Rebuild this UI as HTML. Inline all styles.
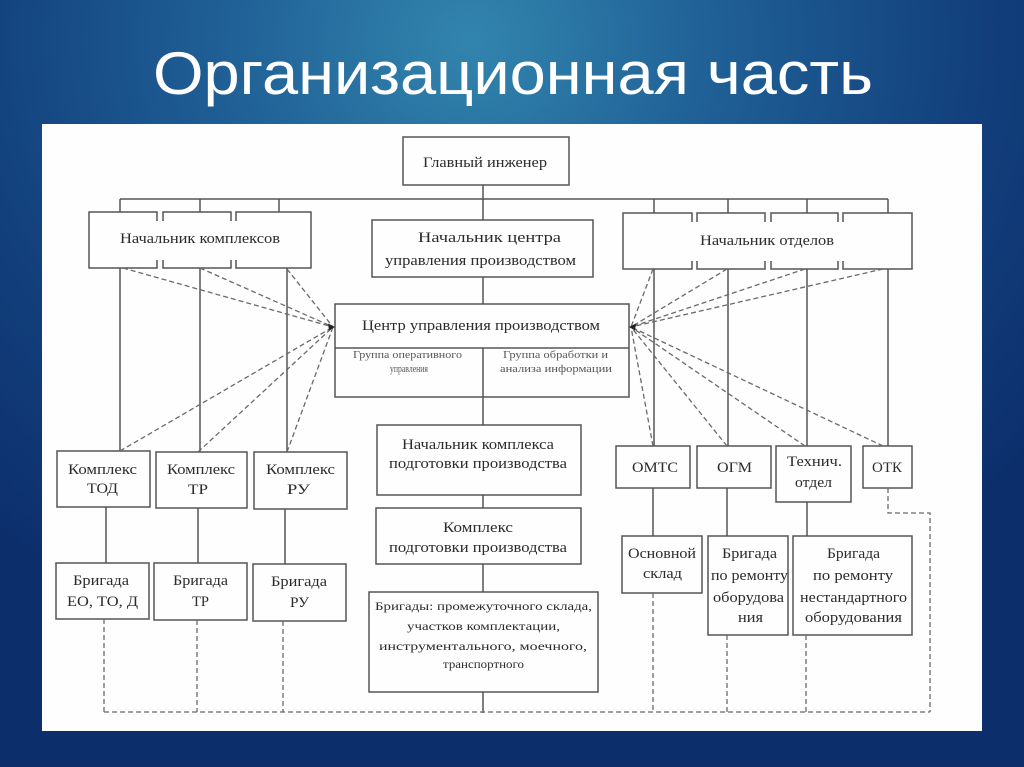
<!DOCTYPE html>
<html><head><meta charset="utf-8"><style>
html,body{margin:0;padding:0;}
body{width:1024px;height:767px;overflow:hidden;background:#0f3673;}
svg{display:block;}
</style></head><body>
<svg width="1024" height="767" viewBox="0 0 1024 767" xmlns="http://www.w3.org/2000/svg">
<defs>
<radialGradient id="bg" cx="470" cy="40" r="720" gradientUnits="userSpaceOnUse" gradientTransform="translate(470 40) scale(1 0.9) translate(-470 -40)">
<stop offset="0" stop-color="#3285ae"/>
<stop offset="0.35" stop-color="#1f5f95"/>
<stop offset="0.7" stop-color="#12407c"/>
<stop offset="1" stop-color="#0c2f6c"/>
</radialGradient>
</defs>
<rect width="1024" height="767" fill="url(#bg)"/>
<text x="153" y="94" font-family="Liberation Sans, sans-serif" font-size="60" fill="#ffffff" textLength="720" lengthAdjust="spacingAndGlyphs">Организационная часть</text>
<rect x="42" y="124" width="940" height="607" fill="#fefefe"/>

<g fill="none" stroke="#555" stroke-width="1.5">
<!-- top -->
<rect x="403" y="137" width="166" height="48"/>
<line x1="120" y1="199" x2="888" y2="199"/>
<line x1="483" y1="185" x2="483" y2="220"/>
<line x1="120" y1="199" x2="120" y2="212"/>
<line x1="200" y1="199" x2="200" y2="212"/>
<line x1="279" y1="199" x2="279" y2="212"/>
<line x1="654" y1="199" x2="654" y2="213"/>
<line x1="728" y1="199" x2="728" y2="213"/>
<line x1="807" y1="199" x2="807" y2="213"/>
<line x1="888" y1="199" x2="888" y2="213"/>
<!-- Начальник комплексов -->
<rect x="89" y="212" width="68" height="56"/>
<rect x="163" y="212" width="68" height="56"/>
<rect x="236" y="212" width="75" height="56"/>
<!-- Начальник отделов -->
<rect x="623" y="213" width="69" height="56"/>
<rect x="697" y="213" width="68" height="56"/>
<rect x="771" y="213" width="67" height="56"/>
<rect x="843" y="213" width="69" height="56"/>
</g>
<rect x="150" y="221" width="95" height="39" fill="#fefefe"/>
<rect x="685" y="222" width="165" height="39" fill="#fefefe"/>

<g fill="none" stroke="#555" stroke-width="1.5">
<rect x="372" y="220" width="221" height="57"/>
<line x1="483" y1="277" x2="483" y2="304"/>
<rect x="335" y="304" width="294" height="93"/>
<line x1="335" y1="348" x2="629" y2="348"/>
<line x1="483" y1="348" x2="483" y2="425"/>
<rect x="377" y="425" width="204" height="70"/>
<line x1="483" y1="495" x2="483" y2="508"/>
<rect x="376" y="508" width="205" height="56"/>
<line x1="483" y1="564" x2="483" y2="592"/>
<rect x="369" y="592" width="229" height="100"/>
<line x1="483" y1="692" x2="483" y2="713"/>

<!-- left column -->
<line x1="120" y1="268" x2="120" y2="451"/>
<line x1="200" y1="268" x2="200" y2="452"/>
<line x1="287" y1="268" x2="287" y2="452"/>
<rect x="57" y="451" width="93" height="56"/>
<rect x="156" y="452" width="91" height="56"/>
<rect x="254" y="452" width="93" height="57"/>
<line x1="106" y1="507" x2="106" y2="563"/>
<line x1="198" y1="508" x2="198" y2="563"/>
<line x1="285" y1="509" x2="285" y2="564"/>
<rect x="56" y="563" width="93" height="56"/>
<rect x="154" y="563" width="93" height="57"/>
<rect x="253" y="564" width="93" height="57"/>

<!-- right column -->
<line x1="654" y1="269" x2="654" y2="446"/>
<line x1="728" y1="269" x2="728" y2="446"/>
<line x1="807" y1="269" x2="807" y2="446"/>
<line x1="888" y1="269" x2="888" y2="446"/>
<rect x="616" y="446" width="74" height="42"/>
<rect x="697" y="446" width="74" height="42"/>
<rect x="776" y="446" width="75" height="56"/>
<rect x="863" y="446" width="49" height="42"/>
<line x1="653" y1="488" x2="653" y2="536"/>
<line x1="727" y1="488" x2="727" y2="536"/>
<line x1="807" y1="502" x2="807" y2="536"/>
<rect x="622" y="536" width="80" height="57"/>
<rect x="708" y="536" width="80" height="99"/>
<rect x="793" y="536" width="119" height="99"/>
</g>

<!-- dashed -->
<g fill="none" stroke="#6a6a6a" stroke-width="1.3" stroke-dasharray="5 3">
<line x1="104" y1="619" x2="104" y2="712"/>
<line x1="197" y1="620" x2="197" y2="712"/>
<line x1="283" y1="621" x2="283" y2="712"/>
<line x1="653" y1="593" x2="653" y2="712"/>
<line x1="727" y1="635" x2="727" y2="712"/>
<line x1="806" y1="635" x2="806" y2="712"/>
<polyline points="888,488 888,513 930,513 930,712"/>
<line x1="104" y1="712" x2="930" y2="712"/>

<line x1="123" y1="268" x2="333" y2="327"/>
<line x1="200" y1="268" x2="333" y2="327"/>
<line x1="287" y1="269" x2="333" y2="327"/>
<line x1="120" y1="451" x2="333" y2="327"/>
<line x1="198" y1="452" x2="333" y2="327"/>
<line x1="287" y1="452" x2="333" y2="327"/>

<line x1="653" y1="269" x2="631" y2="327"/>
<line x1="727" y1="269" x2="631" y2="327"/>
<line x1="805" y1="269" x2="631" y2="327"/>
<line x1="883" y1="269" x2="631" y2="327"/>
<line x1="653" y1="446" x2="631" y2="327"/>
<line x1="727" y1="446" x2="631" y2="327"/>
<line x1="805" y1="446" x2="631" y2="327"/>
<line x1="883" y1="446" x2="631" y2="327"/>
</g>
<path d="M335 327 L328 323.5 L329 330.5 Z" fill="#222"/>
<path d="M629 327 L636 323.5 L635 330.5 Z" fill="#222"/>

<g font-family="Liberation Serif, serif" fill="#2b2b2b" font-size="15" lengthAdjust="spacingAndGlyphs">
<text x="423" y="167" textLength="124" lengthAdjust="spacingAndGlyphs">Главный инженер</text>
<text x="120" y="243" textLength="160" lengthAdjust="spacingAndGlyphs">Начальник комплексов</text>
<text x="418" y="242" textLength="143" lengthAdjust="spacingAndGlyphs">Начальник центра</text>
<text x="385" y="265" textLength="191" lengthAdjust="spacingAndGlyphs">управления производством</text>
<text x="700" y="245" textLength="134" lengthAdjust="spacingAndGlyphs">Начальник отделов</text>
<text x="362" y="330" textLength="238" lengthAdjust="spacingAndGlyphs">Центр управления производством</text>

<g font-size="11" fill="#555">
<text x="353" y="358" textLength="109" lengthAdjust="spacingAndGlyphs">Группа оперативного</text>
<text x="390" y="372" textLength="38" lengthAdjust="spacingAndGlyphs">управления</text>
<text x="503" y="358" textLength="105" lengthAdjust="spacingAndGlyphs">Группа обработки и</text>
<text x="500" y="372" textLength="112" lengthAdjust="spacingAndGlyphs">анализа информации</text>
</g>

<text x="68" y="474" textLength="69" lengthAdjust="spacingAndGlyphs">Комплекс</text>
<text x="87" y="493" textLength="31" lengthAdjust="spacingAndGlyphs">ТОД</text>
<text x="167" y="474" textLength="68" lengthAdjust="spacingAndGlyphs">Комплекс</text>
<text x="188" y="494" textLength="20" lengthAdjust="spacingAndGlyphs">ТР</text>
<text x="266" y="474" textLength="69" lengthAdjust="spacingAndGlyphs">Комплекс</text>
<text x="287" y="494" textLength="23" lengthAdjust="spacingAndGlyphs">РУ</text>

<text x="73" y="585" textLength="56" lengthAdjust="spacingAndGlyphs">Бригада</text>
<text x="67" y="606" textLength="71" lengthAdjust="spacingAndGlyphs">ЕО, ТО, Д</text>
<text x="173" y="585" textLength="55" lengthAdjust="spacingAndGlyphs">Бригада</text>
<text x="192" y="606" textLength="17" lengthAdjust="spacingAndGlyphs">ТР</text>
<text x="271" y="586" textLength="56" lengthAdjust="spacingAndGlyphs">Бригада</text>
<text x="290" y="607" textLength="19" lengthAdjust="spacingAndGlyphs">РУ</text>

<text x="402" y="449" textLength="152" lengthAdjust="spacingAndGlyphs">Начальник комплекса</text>
<text x="389" y="468" textLength="178" lengthAdjust="spacingAndGlyphs">подготовки производства</text>
<text x="443" y="532" textLength="70" lengthAdjust="spacingAndGlyphs">Комплекс</text>
<text x="389" y="552" textLength="178" lengthAdjust="spacingAndGlyphs">подготовки производства</text>

<g font-size="12">
<text x="375" y="610" textLength="217" lengthAdjust="spacingAndGlyphs">Бригады: промежуточного склада,</text>
<text x="407" y="630" textLength="153" lengthAdjust="spacingAndGlyphs">участков комплектации,</text>
<text x="379" y="650" textLength="208" lengthAdjust="spacingAndGlyphs">инструментального, моечного,</text>
<text x="443" y="668" textLength="81" lengthAdjust="spacingAndGlyphs">транспортного</text>
</g>

<text x="632" y="472" textLength="46" lengthAdjust="spacingAndGlyphs">ОМТС</text>
<text x="717" y="472" textLength="35" lengthAdjust="spacingAndGlyphs">ОГМ</text>
<text x="787" y="466" textLength="55" lengthAdjust="spacingAndGlyphs">Технич.</text>
<text x="795" y="487" textLength="37" lengthAdjust="spacingAndGlyphs">отдел</text>
<text x="872" y="472" textLength="30" lengthAdjust="spacingAndGlyphs">ОТК</text>

<text x="628" y="558" textLength="68" lengthAdjust="spacingAndGlyphs">Основной</text>
<text x="643" y="578" textLength="39" lengthAdjust="spacingAndGlyphs">склад</text>
<text x="722" y="558" textLength="55" lengthAdjust="spacingAndGlyphs">Бригада</text>
<text x="711" y="580" textLength="77" lengthAdjust="spacingAndGlyphs">по ремонту</text>
<text x="713" y="602" textLength="71" lengthAdjust="spacingAndGlyphs">оборудова</text>
<text x="738" y="622" textLength="25" lengthAdjust="spacingAndGlyphs">ния</text>
<text x="827" y="558" textLength="53" lengthAdjust="spacingAndGlyphs">Бригада</text>
<text x="813" y="580" textLength="80" lengthAdjust="spacingAndGlyphs">по ремонту</text>
<text x="800" y="602" textLength="107" lengthAdjust="spacingAndGlyphs">нестандартного</text>
<text x="805" y="622" textLength="97" lengthAdjust="spacingAndGlyphs">оборудования</text>
</g>
</svg>
</body></html>
